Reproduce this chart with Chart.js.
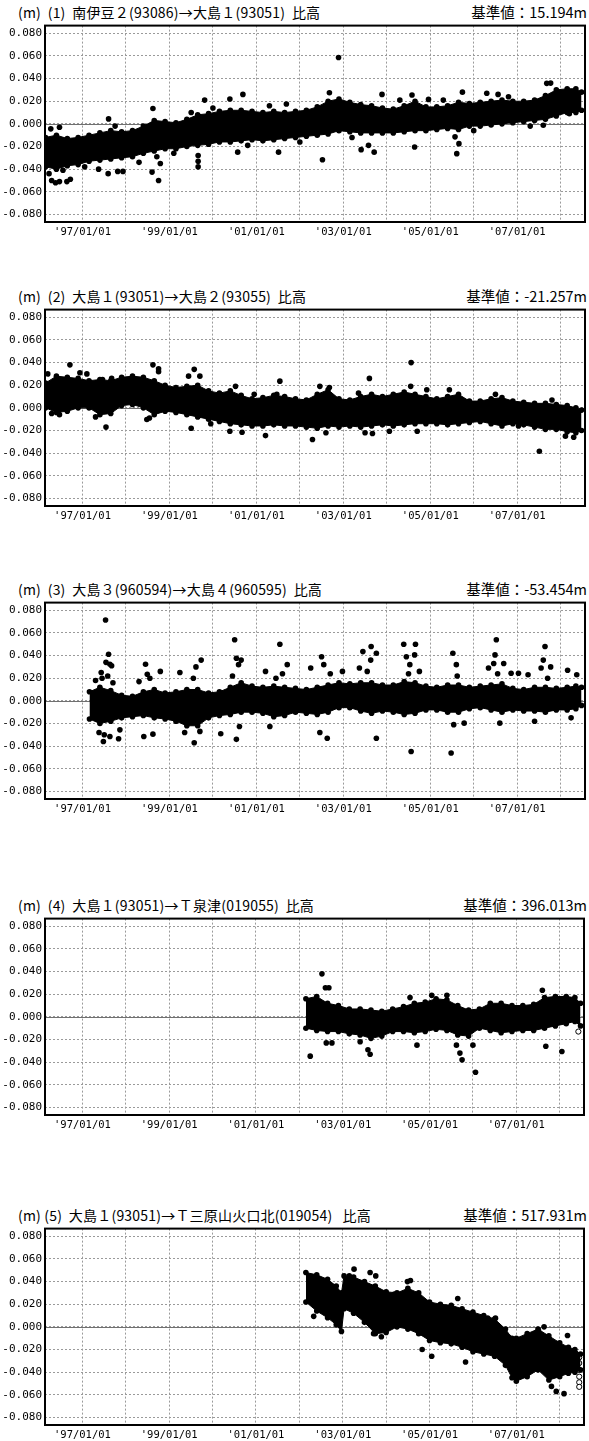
<!DOCTYPE html>
<html>
<head>
<meta charset="utf-8">
<script src="https://cdn.jsdelivr.net/npm/chart.js@4.4.1/dist/chart.umd.min.js"></script>
<style>
  body { margin: 0; background: #fff; }
  #page { position: relative; width: 589px; height: 1441px; overflow: hidden; }
  .head { position: absolute; left: 0; width: 589px; height: 18px; font-family: "Noto Sans CJK JP", sans-serif; font-size: 14px; line-height: 18px; color: #000; white-space: pre; }
  .head .l { position: absolute; left: 18px; letter-spacing: 0.2px; }
  .head .r { position: absolute; right: 2px; font-size: 14.5px; }
  .box { position: absolute; left: 0; width: 589px; height: 228px; }
</style>
</head>
<body>
<div id="page"></div>
<script>
// axis
const yTicks = [-0.08, -0.06, -0.04, -0.02, 0, 0.02, 0.04, 0.06, 0.08];
const gridYears = [1997, 1998, 1999, 2000, 2001, 2002, 2003, 2004, 2005, 2006, 2007, 2008];
const labelYears = [1997, 1999, 2001, 2003, 2005, 2007];

// titles
const titles = [
  "(m)  (1)  南伊豆２(93086)→大島１(93051)  比高",
  "(m)  (2)  大島１(93051)→大島２(93055)  比高",
  "(m)  (3)  大島３(960594)→大島４(960595)  比高",
  "(m)  (4)  大島１(93051)→Ｔ泉津(019055)  比高",
  "(m) (5)  大島１(93051)→Ｔ三原山火口北(019054)   比高"
];
const baseValues = ["基準値：15.194m", "基準値：-21.257m", "基準値：-53.454m", "基準値：396.013m", "基準値：517.931m"];

// dense band of daily points: upper / lower edge, read per quarter
const years9608 = [1996.15, 1996.4, 1996.65, 1996.9, 1997.15, 1997.4, 1997.65, 1997.9, 1998.15, 1998.4, 1998.65, 1998.9,
  1999.15, 1999.4, 1999.65, 1999.9, 2000.15, 2000.4, 2000.65, 2000.9, 2001.15, 2001.4, 2001.65, 2001.9,
  2002.15, 2002.4, 2002.65, 2002.9, 2003.15, 2003.4, 2003.65, 2003.9, 2004.15, 2004.4, 2004.65, 2004.9,
  2005.15, 2005.4, 2005.65, 2005.9, 2006.15, 2006.4, 2006.65, 2006.9, 2007.15, 2007.4, 2007.65, 2007.9,
  2008.15, 2008.35, 2008.48];

const p1Upper = [-0.012, -0.010, -0.013, -0.012, -0.010, -0.008, -0.006, -0.007, -0.006, -0.002, 0.003, 0.002,
  0.001, 0.004, 0.008, 0.009, 0.011, 0.012, 0.012, 0.011, 0.010, 0.011, 0.010, 0.011,
  0.012, 0.015, 0.020, 0.022, 0.019, 0.017, 0.016, 0.014, 0.013, 0.016, 0.020, 0.015,
  0.015, 0.016, 0.019, 0.018, 0.019, 0.020, 0.021, 0.020, 0.020, 0.021, 0.025, 0.030,
  0.031, 0.031, 0.028];
const p1Lower = [-0.038, -0.040, -0.037, -0.036, -0.033, -0.032, -0.031, -0.030, -0.029, -0.026, -0.024, -0.022,
  -0.022, -0.020, -0.019, -0.018, -0.016, -0.016, -0.015, -0.014, -0.015, -0.014, -0.013, -0.012,
  -0.011, -0.010, -0.009, -0.006, -0.007, -0.008, -0.008, -0.008, -0.008, -0.007, -0.006, -0.006,
  -0.005, -0.004, -0.005, -0.002, -0.002, -0.001, 0.000, 0.001, 0.002, 0.003, 0.004, 0.007,
  0.010, 0.010, 0.012];
const p1OutYears = [1996.27, 1996.47, 1996.23, 1996.29, 1996.38, 1996.47, 1996.64, 1996.72, 1997.37, 1997.59, 1997.6, 1997.81,
  1997.93, 1998.6, 1998.62, 1998.71, 1998.75, 1998.79, 1999.66, 1999.66, 1999.66, 1999.81, 2000.39, 2000.57,
  2000.69, 2001.51, 2001.69, 2002.52, 2002.68, 2002.89, 2003.41, 2003.58, 2003.71, 2003.89, 2004.58, 2004.64,
  2004.96, 2005.57, 2005.61, 2005.66, 2005.74, 2006.3, 2006.56, 2007.6, 2007.68, 2007.77, 2008.2,
  1996.55, 1997.05, 1997.75, 1998.3, 1999.1, 1999.5, 2000.0, 2000.8, 2001.3, 2002.0, 2003.2, 2004.3, 2005.3, 2006.0, 2006.8, 2007.3];
const p1OutValues = [-0.0044, -0.003, -0.044, -0.050, -0.052, -0.051, -0.051, -0.049, -0.040, -0.044, 0.0044, -0.042,
  -0.042, -0.0426, 0.0136, -0.029, -0.050, -0.035, -0.028, -0.033, -0.038, 0.021, 0.022, -0.025,
  0.026, -0.025, 0.0175, -0.0317, 0.0275, 0.0586, -0.0228, -0.019, -0.025, 0.026, 0.0255, -0.0204,
  0.0216, -0.0115, -0.0263, -0.0175, 0.028, 0.027, 0.026, -0.0012, 0.0358, 0.036, 0.009,
  -0.041, -0.038, -0.002, -0.034, -0.026, 0.010, 0.014, -0.019, 0.016, -0.016, -0.012, 0.021, 0.021, -0.006, 0.024, -0.002];

const p2Upper = [0.022, 0.028, 0.027, 0.026, 0.024, 0.025, 0.024, 0.027, 0.028, 0.027, 0.024, 0.020,
  0.018, 0.019, 0.020, 0.015, 0.013, 0.015, 0.011, 0.008, 0.009, 0.011, 0.010, 0.008,
  0.007, 0.012, 0.016, 0.008, 0.007, 0.010, 0.012, 0.010, 0.012, 0.014, 0.012, 0.010,
  0.008, 0.010, 0.012, 0.006, 0.006, 0.008, 0.009, 0.006, 0.005, 0.004, 0.004, 0.003,
  0.002, 0.000, -0.002];
const p2Lower = [0.000, -0.004, -0.003, 0.000, 0.000, -0.006, -0.005, 0.002, 0.003, 0.000, -0.006, -0.003,
  -0.004, -0.006, -0.008, -0.010, -0.012, -0.014, -0.015, -0.016, -0.016, -0.015, -0.016, -0.016,
  -0.017, -0.018, -0.016, -0.017, -0.016, -0.017, -0.016, -0.015, -0.016, -0.015, -0.014, -0.014,
  -0.014, -0.015, -0.014, -0.013, -0.012, -0.014, -0.016, -0.014, -0.015, -0.017, -0.019, -0.019,
  -0.021, -0.022, -0.020];
const p2OutYears = [1996.71, 1996.29, 1996.47, 1996.94, 1997.54, 1997.46, 1997.67, 1998.62, 1998.75, 1998.75, 1998.54, 1998.48,
  1999.57, 1999.7, 1999.5, 1999.44, 2000.39, 2000.67, 2000.52, 2001.21, 2001.54, 2001.47, 2002.29, 2002.46,
  2002.68, 2003.6, 2003.5, 2003.67, 2004.06, 2004.56, 2004.55, 2004.7, 2004.92, 2005.44, 2005.83, 2007.51,
  2007.03, 2008.11, 1996.2, 1997.1, 1997.3, 1999.95, 2000.95, 2002.6, 2003.35, 2006.5, 2007.8, 2008.3];
const p2OutValues = [0.038, -0.005, -0.006, 0.031, -0.017, 0.025, 0.026, 0.038, 0.0345, 0.032, -0.009, -0.0103,
  0.034, 0.028, -0.018, 0.028, -0.0207, -0.0215, 0.019, -0.0245, 0.0236, 0.012, -0.028, 0.019,
  0.018, 0.026, -0.022, -0.0227, -0.0207, 0.040, 0.019, -0.0207, 0.016, 0.016, 0.0047, -0.0384,
  -0.016, -0.025, 0.030, 0.030, -0.008, -0.014, 0.012, -0.022, 0.013, 0.012, 0.007, -0.026];

const years9708 = [1997.16, 1997.4, 1997.65, 1997.9, 1998.15, 1998.4, 1998.65, 1998.9,
  1999.15, 1999.4, 1999.65, 1999.9, 2000.15, 2000.4, 2000.65, 2000.9, 2001.15, 2001.4, 2001.65, 2001.9,
  2002.15, 2002.4, 2002.65, 2002.9, 2003.15, 2003.4, 2003.65, 2003.9, 2004.15, 2004.4, 2004.65, 2004.9,
  2005.15, 2005.4, 2005.65, 2005.9, 2006.15, 2006.4, 2006.65, 2006.9, 2007.15, 2007.4, 2007.65, 2007.9,
  2008.15, 2008.35, 2008.48];
const p3Upper = [0.008, 0.012, 0.009, 0.005, 0.004, 0.008, 0.010, 0.007,
  0.008, 0.010, 0.010, 0.007, 0.008, 0.012, 0.016, 0.013, 0.012, 0.013, 0.012, 0.011,
  0.010, 0.012, 0.014, 0.016, 0.015, 0.016, 0.016, 0.014, 0.014, 0.017, 0.016, 0.013,
  0.012, 0.014, 0.014, 0.012, 0.013, 0.014, 0.015, 0.011, 0.010, 0.012, 0.012, 0.011,
  0.012, 0.013, 0.012];
const p3Lower = [-0.016, -0.020, -0.018, -0.015, -0.014, -0.013, -0.015, -0.016,
  -0.018, -0.022, -0.022, -0.015, -0.013, -0.012, -0.010, -0.010, -0.011, -0.014, -0.013, -0.010,
  -0.011, -0.012, -0.010, -0.006, -0.006, -0.009, -0.011, -0.009, -0.010, -0.012, -0.011, -0.008,
  -0.008, -0.010, -0.010, -0.007, -0.006, -0.008, -0.010, -0.008, -0.009, -0.009, -0.010, -0.008,
  -0.008, -0.007, -0.004];
const p3OutYears = [1997.53, 1997.6, 1997.54, 1997.63, 1997.43, 1997.67, 1997.48, 1997.63, 1997.83, 1997.86,
  1998.49, 1998.45, 1998.41, 1998.62, 1998.79, 1999.24, 1999.61, 1999.73, 1999.57, 1999.7,
  2000.18, 2000.5, 2000.54, 2000.65, 2000.59, 2000.54, 2000.61, 2001.21, 2001.54, 2001.71, 2001.6, 2001.31,
  2002.25, 2002.5, 2002.55, 2002.46, 2002.63, 2002.98, 2003.45, 2003.64, 2003.76, 2003.63, 2003.76, 2003.37,
  2004.39, 2004.66, 2004.45, 2004.64, 2004.56, 2004.53, 2004.75, 2005.52, 2005.48, 2005.6, 2005.54, 2005.78,
  2006.34, 2006.52, 2006.49, 2006.46, 2006.69, 2006.6, 2006.86, 2007.03, 2007.25, 2007.4, 2007.64, 2007.6,
  2007.55, 2007.77, 2008.16, 2008.37, 2008.24,
  1997.3, 1997.45, 1997.58, 1997.7, 1997.38, 1997.5, 1998.3, 1998.55, 1999.35, 1999.55, 2000.45, 2001.45,
  2002.7, 2003.55, 2004.5, 2005.62, 2006.55, 2007.7];
const p3OutValues = [0.0714, 0.0412, 0.034, 0.0323, 0.025, 0.031, -0.0359, -0.0315, -0.0335, -0.0256,
  0.0235, 0.0323, -0.0315, -0.0294, 0.026, 0.025, 0.030, 0.036, -0.037, -0.027,
  -0.029, 0.054, 0.0376, 0.036, 0.032, -0.034, -0.0226, 0.026, 0.050, 0.032, 0.024, -0.0226,
  0.029, 0.039, 0.032, -0.028, -0.033, 0.026, 0.0435, 0.048, 0.042, 0.036, -0.033, 0.029,
  0.050, 0.050, 0.039, 0.0406, -0.0447, 0.032, 0.026, 0.042, -0.046, 0.032, -0.021, -0.0197,
  0.029, 0.054, 0.0406, 0.033, 0.033, -0.0197, 0.0244, 0.0244, 0.023, -0.018, 0.048, 0.036,
  0.029, 0.030, 0.027, 0.023, -0.015,
  0.018, 0.020, 0.022, 0.016, -0.028, -0.030, 0.017, 0.020, -0.028, 0.020, 0.022, 0.020,
  0.024, 0.026, 0.024, 0.022, 0.024, 0.020];

const years0208 = [2002.15, 2002.4, 2002.65, 2002.9, 2003.15, 2003.4, 2003.65, 2003.9, 2004.15, 2004.4, 2004.65, 2004.9,
  2005.15, 2005.4, 2005.65, 2005.9, 2006.15, 2006.4, 2006.65, 2006.9, 2007.15, 2007.4, 2007.65, 2007.9,
  2008.15, 2008.35, 2008.48];
const p4Upper = [0.016, 0.018, 0.012, 0.010, 0.007, 0.007, 0.006, 0.005, 0.007, 0.009, 0.012, 0.013,
  0.016, 0.015, 0.010, 0.006, 0.007, 0.012, 0.012, 0.010, 0.010, 0.011, 0.017, 0.018,
  0.018, 0.017, 0.012];
const p4Lower = [-0.010, -0.012, -0.013, -0.013, -0.015, -0.016, -0.019, -0.017, -0.013, -0.013, -0.014, -0.013,
  -0.011, -0.012, -0.016, -0.017, -0.010, -0.012, -0.014, -0.013, -0.012, -0.012, -0.010, -0.008,
  -0.006, -0.004, -0.008];
const p4OutYears = [2002.25, 2002.52, 2002.6, 2002.68, 2002.62, 2002.75, 2003.63, 2003.58, 2003.4, 2004.55, 2004.71, 2005.05,
  2005.4, 2005.62, 2005.7, 2005.75, 2006.0, 2006.06, 2007.6, 2007.68, 2008.05];
const p4OutValues = [-0.0347, 0.038, 0.0257, 0.0257, -0.023, -0.023, -0.033, -0.029, -0.022, 0.017, -0.025, 0.019,
  0.019, -0.025, -0.032, -0.038, -0.025, -0.049, 0.0235, -0.026, -0.0306];
const p4OpenYears = [2008.43];
const p4OpenValues = [-0.013];

const years5 = [2002.15, 2002.4, 2002.65, 2002.85, 2002.97, 2003.03, 2003.25, 2003.5, 2003.75, 2004.0, 2004.25, 2004.5,
  2004.75, 2005.0, 2005.25, 2005.5, 2005.75, 2006.0, 2006.25, 2006.5, 2006.75, 2006.9, 2007.0, 2007.25,
  2007.5, 2007.75, 2008.0, 2008.2, 2008.35, 2008.48];
const p5Upper = [0.048, 0.046, 0.042, 0.036, 0.030, 0.045, 0.044, 0.040, 0.036, 0.031, 0.030, 0.034,
  0.030, 0.022, 0.020, 0.019, 0.016, 0.013, 0.010, 0.007, -0.002, -0.010, -0.010, -0.006,
  -0.002, -0.008, -0.014, -0.018, -0.020, -0.024];
const p5Lower = [0.022, 0.014, 0.008, 0.002, -0.004, 0.016, 0.012, 0.004, -0.006, -0.005, 0.000, -0.002,
  -0.006, -0.012, -0.014, -0.015, -0.018, -0.022, -0.024, -0.026, -0.034, -0.045, -0.048, -0.044,
  -0.038, -0.047, -0.044, -0.041, -0.040, -0.038];
const p5OutYears = [2002.33, 2003.26, 2003.15, 2003.63, 2003.76, 2003.71, 2003.89, 2004.19, 2004.56, 2004.49,
  2004.83, 2005.05, 2005.65, 2005.83, 2006.34, 2006.52, 2006.82, 2007.51, 2007.64, 2007.81, 2007.92, 2008.1, 2008.18];
const p5OutValues = [0.0093, 0.051, 0.045, 0.048, 0.045, -0.006, -0.0087, 0.029, 0.041, 0.040,
  -0.020, -0.026, 0.025, -0.031, 0.0077, 0.0077, -0.009, -0.003, 0.000, -0.0526, -0.057, -0.059, -0.0077];
const p5OpenYears = [2008.45, 2008.45, 2008.45, 2008.45, 2008.45, 2008.45];
const p5OpenValues = [-0.027, -0.032, -0.038, -0.044, -0.049, -0.053];

const plotTops = [24, 308, 601, 917, 1227];

const panels = [
  { years: years9608, hi: p1Upper, lo: p1Lower, outX: p1OutYears, outY: p1OutValues, openX: [], openY: [] },
  { years: years9608, hi: p2Upper, lo: p2Lower, outX: p2OutYears, outY: p2OutValues, openX: [], openY: [] },
  { years: years9708, hi: p3Upper, lo: p3Lower, outX: p3OutYears, outY: p3OutValues, openX: [], openY: [] },
  { years: years0208, hi: p4Upper, lo: p4Lower, outX: p4OutYears, outY: p4OutValues, openX: p4OpenYears, openY: p4OpenValues },
  { years: years5, hi: p5Upper, lo: p5Lower, outX: p5OutYears, outY: p5OutValues, openX: p5OpenYears, openY: p5OpenValues }
];

const pts = (xs, ys) => xs.map((x, i) => ({ x: x, y: ys[i] }));

// frame + solid zero line
const framePlugin = {
  id: 'frame',
  beforeDatasetsDraw(chart) {
    const { ctx, chartArea: a } = chart;
    const y0 = chart.scales.y.getPixelForValue(0);
    ctx.save();
    ctx.strokeStyle = '#707070';
    ctx.lineWidth = 1;
    ctx.beginPath();
    ctx.moveTo(a.left, Math.round(y0) + 0.5);
    ctx.lineTo(a.right, Math.round(y0) + 0.5);
    ctx.stroke();
    ctx.restore();
  },
  afterDraw(chart) {
    const { ctx, chartArea: a } = chart;
    ctx.save();
    ctx.strokeStyle = '#000';
    ctx.lineWidth = 2;
    ctx.strokeRect(a.left, a.top, a.right - a.left, a.bottom - a.top);
    ctx.restore();
  }
};

const page = document.getElementById('page');

panels.forEach((p, i) => {
  const top = plotTops[i];
  const head = document.createElement('div');
  head.className = 'head';
  head.style.top = (top - 21) + 'px';
  head.innerHTML = '<span class="l"></span><span class="r"></span>';
  head.querySelector('.l').textContent = titles[i];
  head.querySelector('.r').textContent = baseValues[i];
  page.appendChild(head);

  const box = document.createElement('div');
  box.className = 'box';
  box.style.top = (top - 8) + 'px';
  const cv = document.createElement('canvas');
  box.appendChild(cv);
  page.appendChild(box);

  const dot = { pointRadius: 2.8, pointBackgroundColor: '#000', pointBorderColor: '#000', pointBorderWidth: 0 };

  new Chart(cv, {
    type: 'scatter',
    data: {
      datasets: [
        Object.assign({ data: pts(p.years, p.hi), showLine: true, borderColor: '#000', borderWidth: 1,
          backgroundColor: '#000', fill: '+1', tension: 0 }, dot),
        Object.assign({ data: pts(p.years, p.lo), showLine: true, borderColor: '#000', borderWidth: 1,
          backgroundColor: '#000', fill: false, tension: 0 }, dot),
        Object.assign({ data: pts(p.outX, p.outY) }, dot),
        { data: pts(p.openX, p.openY), pointRadius: 2.6, pointBackgroundColor: '#fff', pointBorderColor: '#000', pointBorderWidth: 1 }
      ]
    },
    options: {
      responsive: true,
      maintainAspectRatio: false,
      animation: false,
      events: [],
      layout: { padding: { top: 8, right: 3, left: 0, bottom: 0 } },
      plugins: { legend: { display: false }, tooltip: { enabled: false }, title: { display: false } },
      scales: {
        x: {
          type: 'linear',
          min: 1996.137,
          max: 2008.56,
          afterBuildTicks: (s) => { s.ticks = gridYears.map(v => ({ value: v })); },
          afterFit: (s) => { s.height = 22; },
          grid: { color: '#9a9a9a', lineWidth: 1, drawTicks: false },
          border: { display: false, dash: [2, 2] },
          ticks: {
            autoSkip: false, maxRotation: 0, minRotation: 0, padding: 4, color: '#000',
            font: { family: 'DejaVu Sans Mono', size: 10.5 },
            callback: (v) => labelYears.includes(v) ? "'" + String(v).slice(2) + '/01/01' : ''
          }
        },
        y: {
          min: -0.0867,
          max: 0.0868,
          afterBuildTicks: (s) => { s.ticks = yTicks.map(v => ({ value: v })); },
          afterFit: (s) => { s.width = 45; },
          grid: { color: '#9a9a9a', lineWidth: 1, drawTicks: false },
          border: { display: false, dash: [2, 2] },
          ticks: {
            padding: 3, color: '#000',
            font: { family: 'DejaVu Sans Mono', size: 11 },
            callback: (v) => (v < 0 ? '-' : '') + Math.abs(v).toFixed(3)
          }
        }
      }
    },
    plugins: [framePlugin]
  });
});
</script>
</body>
</html>
